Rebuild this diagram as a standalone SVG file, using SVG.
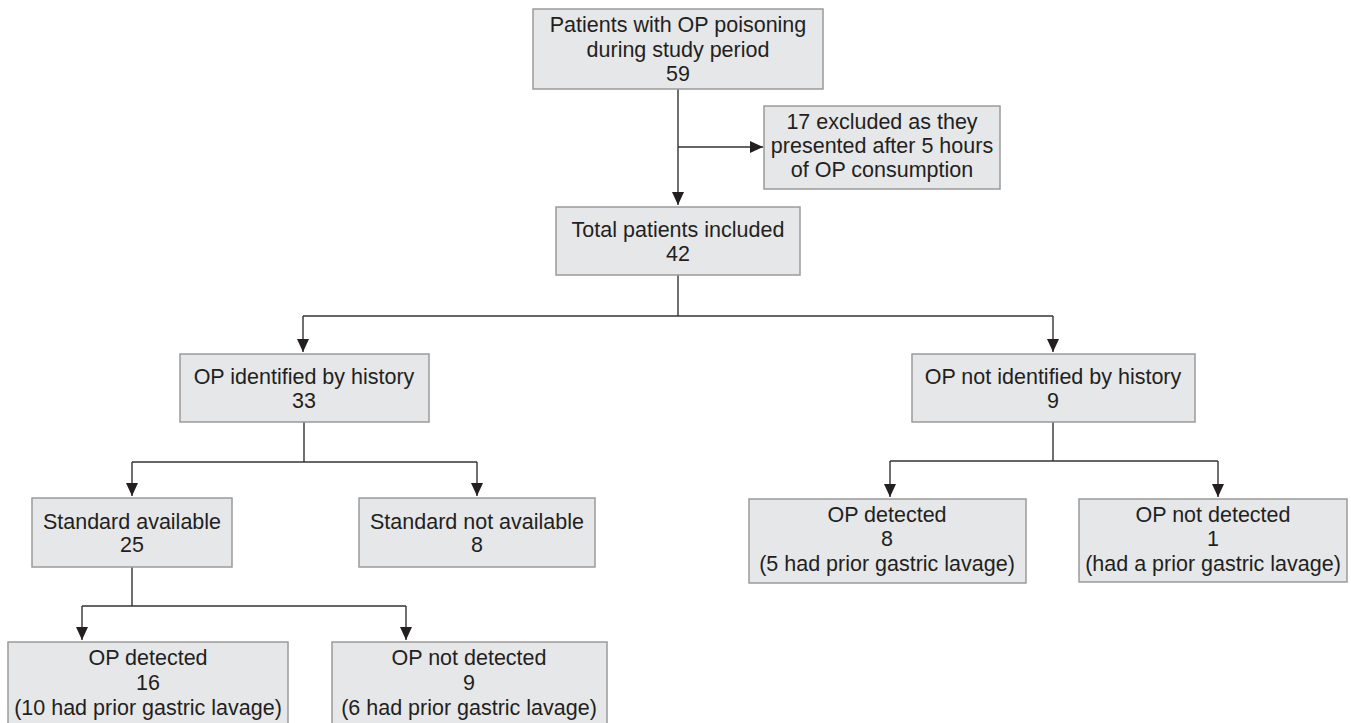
<svg xmlns="http://www.w3.org/2000/svg" width="1351" height="723" viewBox="0 0 1351 723">
<defs>
<marker id="ah" viewBox="0 0 13 12" refX="13" refY="6" markerWidth="13" markerHeight="12" markerUnits="userSpaceOnUse" orient="auto">
<path d="M0,0 L13,6 L0,12 Z" fill="#231f20"/>
</marker>
<style>
.box{fill:#e6e7e8;stroke:#9a9a9a;stroke-width:1.5}
.t{font-family:"Liberation Sans",Arial,sans-serif;font-size:21.5px;fill:#231f20;text-anchor:middle}
.c{fill:none;stroke:#333;stroke-width:1.4}
</style>
</defs>
<rect width="1351" height="723" fill="#fff"/>
<g id="connectors">
<path class="c" d="M678,89 V205" marker-end="url(#ah)"/>
<path class="c" d="M678,147 H763" marker-end="url(#ah)"/>
<path class="c" d="M678,275 V316"/>
<path class="c" d="M303,316 H1053"/>
<path class="c" d="M303,316 V352" marker-end="url(#ah)"/>
<path class="c" d="M1053,316 V352" marker-end="url(#ah)"/>
<path class="c" d="M304,422 V462"/>
<path class="c" d="M132,462 H477"/>
<path class="c" d="M132,462 V496" marker-end="url(#ah)"/>
<path class="c" d="M477,462 V496" marker-end="url(#ah)"/>
<path class="c" d="M1053,422 V461"/>
<path class="c" d="M890,461 H1218"/>
<path class="c" d="M890,461 V497" marker-end="url(#ah)"/>
<path class="c" d="M1218,461 V497" marker-end="url(#ah)"/>
<path class="c" d="M132,567 V606"/>
<path class="c" d="M82,606 H406"/>
<path class="c" d="M82,606 V640" marker-end="url(#ah)"/>
<path class="c" d="M406,606 V640" marker-end="url(#ah)"/>
</g>
<g id="n-top">
<rect class="box" x="533" y="9" width="290" height="80"/>
<text class="t" x="678" y="32">Patients with OP poisoning</text>
<text class="t" x="678" y="57">during study period</text>
<text class="t" x="678" y="81">59</text>
</g>
<g id="n-excluded">
<rect class="box" x="764" y="106" width="236" height="83"/>
<text class="t" x="882" y="129">17 excluded as they</text>
<text class="t" x="882" y="153">presented after 5 hours</text>
<text class="t" x="882" y="177">of OP consumption</text>
</g>
<g id="n-total">
<rect class="box" x="556" y="207" width="244" height="68"/>
<text class="t" x="678" y="237">Total patients included</text>
<text class="t" x="678" y="261">42</text>
</g>
<g id="n-hist">
<rect class="box" x="180" y="354" width="249" height="68"/>
<text class="t" x="304" y="384">OP identified by history</text>
<text class="t" x="304" y="408">33</text>
</g>
<g id="n-nohist">
<rect class="box" x="912" y="354" width="283" height="68"/>
<text class="t" x="1053" y="384">OP not identified by history</text>
<text class="t" x="1053" y="408">9</text>
</g>
<g id="n-std">
<rect class="box" x="32" y="498" width="200" height="69"/>
<text class="t" x="132" y="529">Standard available</text>
<text class="t" x="132" y="552">25</text>
</g>
<g id="n-nostd">
<rect class="box" x="359" y="498" width="236" height="69"/>
<text class="t" x="477" y="529">Standard not available</text>
<text class="t" x="477" y="552">8</text>
</g>
<g id="n-det-l">
<rect class="box" x="8" y="642" width="280" height="90"/>
<text class="t" x="148" y="665">OP detected</text>
<text class="t" x="148" y="690">16</text>
<text class="t" x="148" y="715">(10 had prior gastric lavage)</text>
</g>
<g id="n-nodet-l">
<rect class="box" x="332" y="642" width="275" height="90"/>
<text class="t" x="469" y="665">OP not detected</text>
<text class="t" x="469" y="690">9</text>
<text class="t" x="469" y="715">(6 had prior gastric lavage)</text>
</g>
<g id="n-det-r">
<rect class="box" x="749" y="499" width="277" height="84"/>
<text class="t" x="887" y="522">OP detected</text>
<text class="t" x="887" y="546">8</text>
<text class="t" x="887" y="571">(5 had prior gastric lavage)</text>
</g>
<g id="n-nodet-r">
<rect class="box" x="1079" y="499" width="268" height="83"/>
<text class="t" x="1213" y="522">OP not detected</text>
<text class="t" x="1213" y="546">1</text>
<text class="t" x="1213" y="571">(had a prior gastric lavage)</text>
</g>
</svg>
